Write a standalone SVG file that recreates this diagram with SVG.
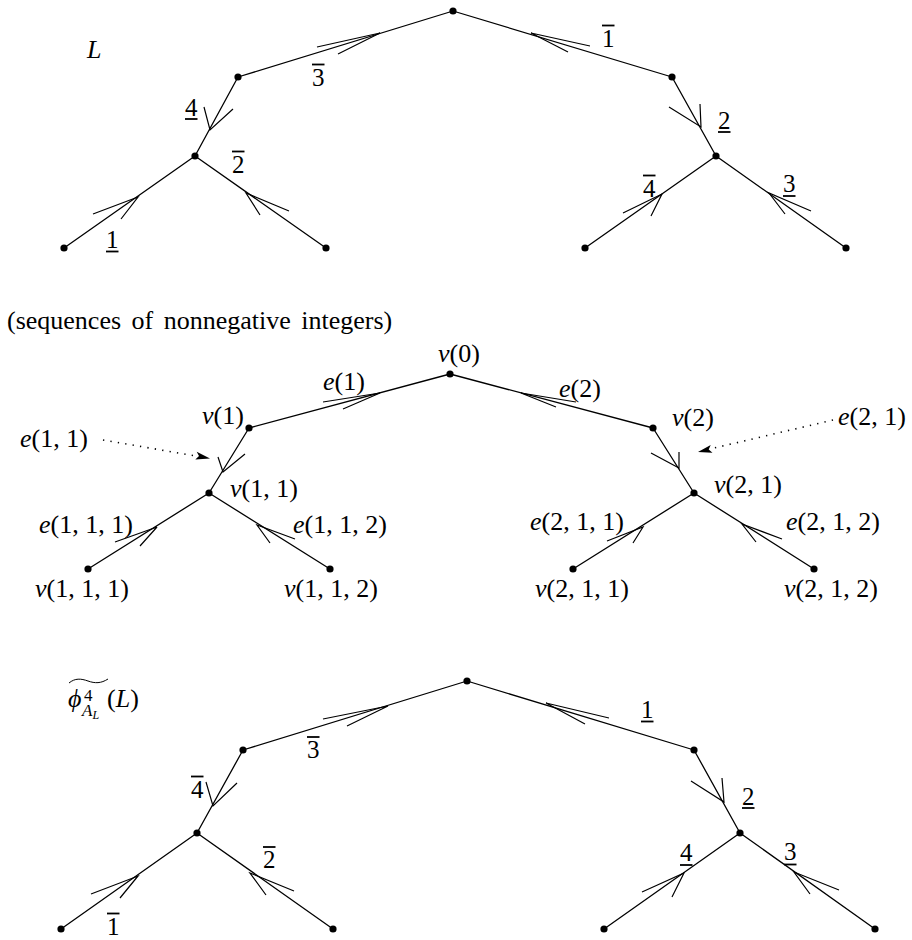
<svg xmlns="http://www.w3.org/2000/svg" width="912" height="940" viewBox="0 0 912 940">
<style>
.e{stroke:#000;stroke-width:1.3;fill:none;stroke-linecap:round;stroke-linejoin:miter}
.a{stroke:#000;stroke-width:1.2;fill:none;stroke-linecap:butt;stroke-linejoin:miter}
.d{stroke:#000;stroke-width:1.6;fill:none;stroke-dasharray:1.3 6.2}
.n{fill:#000}
.t{font-family:"Liberation Serif","DejaVu Serif",serif;font-size:26px;fill:#000}
.g{font-family:"Liberation Serif","DejaVu Serif",serif;font-size:25px;fill:#000}
.i{font-style:italic}
.b{stroke:#000;stroke-width:1.8}
</style>
<defs>
<circle id="dot" r="3.6" class="n"/>
</defs>

<!-- ============ TOP TREE ============ -->
<g id="top-connectors">
<line class="e" x1="453" y1="11" x2="238" y2="77"/>
<line class="e" x1="453" y1="11" x2="672" y2="77"/>
<line class="e" x1="238" y1="77" x2="195" y2="156"/>
<line class="e" x1="672" y1="77" x2="716" y2="156"/>
<line class="e" x1="195" y1="156" x2="64" y2="248"/>
<line class="e" x1="195" y1="156" x2="326" y2="248"/>
<line class="e" x1="716" y1="156" x2="585" y2="248"/>
<line class="e" x1="716" y1="156" x2="846" y2="248"/>
<polyline class="a" points="317,47 380,33 338,54"/>
<polyline class="a" points="590,46 531,33 568,52"/>
<polyline class="a" points="204,107 210,130 233,109"/>
<polyline class="a" points="669,107 701,127 700,104"/>
<polyline class="a" points="93,214 138,197 121,219"/>
<polyline class="a" points="289,211 246,193 260,215"/>
<polyline class="a" points="623,213 662,194 651,216"/>
<polyline class="a" points="811,211 769,193 785,214"/>
</g>
<g id="top-nodes">
<g id="t0"><use href="#dot" x="453" y="11"/></g>
<g id="t1"><use href="#dot" x="238" y="77"/></g>
<g id="t11"><use href="#dot" x="195" y="156"/></g>
<g id="t111"><use href="#dot" x="64" y="248"/></g>
<g id="t112"><use href="#dot" x="326" y="248"/></g>
<g id="t2"><use href="#dot" x="672" y="77"/></g>
<g id="t21"><use href="#dot" x="716" y="156"/></g>
<g id="t211"><use href="#dot" x="585" y="248"/></g>
<g id="t212"><use href="#dot" x="846" y="248"/></g>
</g>
<g id="top-labels">
<text class="t i" x="87" y="58" font-family="Liberation Serif, serif">L</text>
<text class="g" x="312" y="86">3</text><line class="b" x1="312" y1="64.5" x2="324.5" y2="64.5"/>
<text class="g" x="185" y="116">4</text><line class="b" x1="185" y1="119" x2="197.5" y2="119"/>
<text class="g" x="232" y="173">2</text><line class="b" x1="232" y1="151.5" x2="244.5" y2="151.5"/>
<text class="g" x="106" y="248">1</text><line class="b" x1="106" y1="251.5" x2="118.5" y2="251.5"/>
<text class="g" x="602" y="47">1</text><line class="b" x1="602" y1="25.5" x2="614.5" y2="25.5"/>
<text class="g" x="718" y="129">2</text><line class="b" x1="718" y1="132" x2="730.5" y2="132"/>
<text class="g" x="643" y="197">4</text><line class="b" x1="643" y1="175.5" x2="655.5" y2="175.5"/>
<text class="g" x="783" y="192">3</text><line class="b" x1="783" y1="196" x2="795.5" y2="196"/>
</g>

<!-- ============ MIDDLE TREE ============ -->
<text class="t" x="7" y="329" word-spacing="4">(sequences of nonnegative integers)</text>
<g id="mid-connectors">
<line class="e" x1="450" y1="374" x2="249" y2="428"/>
<line class="e" x1="450" y1="374" x2="653" y2="428"/>
<line class="e" x1="249" y1="428" x2="209" y2="493"/>
<line class="e" x1="653" y1="428" x2="694" y2="493"/>
<line class="e" x1="209" y1="493" x2="88" y2="569"/>
<line class="e" x1="209" y1="493" x2="330" y2="569"/>
<line class="e" x1="694" y1="493" x2="573" y2="569"/>
<line class="e" x1="694" y1="493" x2="814" y2="569"/>
<polyline class="a" points="323,402 380,393 343,409"/>
<polyline class="a" points="576,402 521,393 556,407"/>
<polyline class="a" points="218,457 223,472 245,454"/>
<polyline class="a" points="651,453 679,468 679,452"/>
<polyline class="a" points="115,542 157,527 140,546"/>
<polyline class="a" points="295,539 257,525 270,543"/>
<polyline class="a" points="607,541 643,527 633,543"/>
<polyline class="a" points="782,539 742,524 756,542"/>
<line class="d" x1="103" y1="440" x2="196" y2="456"/>
<path class="n" d="M210,458.4 L195.3,459.6 L199,456 L196.7,451.7 Z"/>
<line class="d" x1="833" y1="420" x2="710" y2="449"/>
<path class="n" d="M698,452 L710.7,444.9 L708.7,449.5 L712.5,452.7 Z"/>
</g>
<g id="mid-nodes">
<g id="v0"><use href="#dot" x="450" y="374"/><text class="t" x="438" y="362"><tspan class="i">v</tspan>(0)</text></g>
<g id="v1"><use href="#dot" x="249" y="428"/><text class="t" x="202" y="424"><tspan class="i">v</tspan>(1)</text></g>
<g id="v2"><use href="#dot" x="653" y="428"/><text class="t" x="672" y="426"><tspan class="i">v</tspan>(2)</text></g>
<g id="v11"><use href="#dot" x="209" y="493"/><text class="t" x="230" y="497"><tspan class="i">v</tspan>(1, 1)</text></g>
<g id="v21"><use href="#dot" x="694" y="493"/><text class="t" x="714" y="493"><tspan class="i">v</tspan>(2, 1)</text></g>
<g id="v111"><use href="#dot" x="88" y="569"/><text class="t" x="35" y="597"><tspan class="i">v</tspan>(1, 1, 1)</text></g>
<g id="v112"><use href="#dot" x="330" y="569"/><text class="t" x="284" y="597"><tspan class="i">v</tspan>(1, 1, 2)</text></g>
<g id="v211"><use href="#dot" x="573" y="569"/><text class="t" x="535" y="597"><tspan class="i">v</tspan>(2, 1, 1)</text></g>
<g id="v212"><use href="#dot" x="814" y="569"/><text class="t" x="784" y="597"><tspan class="i">v</tspan>(2, 1, 2)</text></g>
</g>
<g id="mid-edge-labels">
<text class="t" x="323" y="390"><tspan class="i">e</tspan>(1)</text>
<text class="t" x="559" y="397"><tspan class="i">e</tspan>(2)</text>
<text class="t" x="20" y="447"><tspan class="i">e</tspan>(1, 1)</text>
<text class="t" x="838" y="425"><tspan class="i">e</tspan>(2, 1)</text>
<text class="t" x="39" y="533"><tspan class="i">e</tspan>(1, 1, 1)</text>
<text class="t" x="293" y="533"><tspan class="i">e</tspan>(1, 1, 2)</text>
<text class="t" x="530" y="530"><tspan class="i">e</tspan>(2, 1, 1)</text>
<text class="t" x="786" y="530"><tspan class="i">e</tspan>(2, 1, 2)</text>
</g>

<!-- ============ BOTTOM TREE ============ -->
<g id="bot-connectors">
<line class="e" x1="467" y1="681" x2="243" y2="750"/>
<line class="e" x1="467" y1="681" x2="694" y2="750"/>
<line class="e" x1="243" y1="750" x2="197" y2="833"/>
<line class="e" x1="694" y1="750" x2="740" y2="833"/>
<line class="e" x1="197" y1="833" x2="61" y2="929"/>
<line class="e" x1="197" y1="833" x2="333" y2="929"/>
<line class="e" x1="740" y1="833" x2="604" y2="929"/>
<line class="e" x1="740" y1="833" x2="875" y2="929"/>
<polyline class="a" points="323,719 388,706 347,726"/>
<polyline class="a" points="609,718 546,703 585,724"/>
<polyline class="a" points="206,782 213,806 237,783"/>
<polyline class="a" points="691,781 724,802 722,778"/>
<polyline class="a" points="91,894 138,876 120,898"/>
<polyline class="a" points="294,891 250,873 266,895"/>
<polyline class="a" points="642,892 684,873 672,897"/>
<polyline class="a" points="839,890 794,872 810,894"/>
</g>
<g id="bot-nodes">
<g id="b0"><use href="#dot" x="467" y="681"/></g>
<g id="b1"><use href="#dot" x="243" y="750"/></g>
<g id="b11"><use href="#dot" x="197" y="833"/></g>
<g id="b111"><use href="#dot" x="61" y="929"/></g>
<g id="b112"><use href="#dot" x="333" y="929"/></g>
<g id="b2"><use href="#dot" x="694" y="750"/></g>
<g id="b21"><use href="#dot" x="740" y="833"/></g>
<g id="b211"><use href="#dot" x="604" y="929"/></g>
<g id="b212"><use href="#dot" x="875" y="929"/></g>
</g>
<g id="bot-labels">
<path d="M69,683 C75,678 81,678.5 88,681 C95,683.5 101,683.5 108,679" stroke="#000" stroke-width="1" fill="none"/>
<text class="t" x="68" y="707"><tspan class="i">ϕ</tspan><tspan x="84" dy="-6" font-size="17">4</tspan><tspan x="82" dy="15" font-size="17" class="i">A</tspan><tspan dy="3" font-size="12" class="i">L</tspan><tspan x="107" dy="-12">(<tspan class="i">L</tspan>)</tspan></text>
<text class="g" x="307" y="758">3</text><line class="b" x1="307" y1="737" x2="319.5" y2="737"/>
<text class="g" x="191" y="798">4</text><line class="b" x1="191" y1="776.5" x2="203.5" y2="776.5"/>
<text class="g" x="263" y="868">2</text><line class="b" x1="263" y1="847" x2="275.5" y2="847"/>
<text class="g" x="107" y="935">1</text><line class="b" x1="107" y1="913.5" x2="119.5" y2="913.5"/>
<text class="g" x="641" y="718">1</text><line class="b" x1="641" y1="721.5" x2="653.5" y2="721.5"/>
<text class="g" x="742" y="805">2</text><line class="b" x1="742" y1="808" x2="754.5" y2="808"/>
<text class="g" x="680" y="861">4</text><line class="b" x1="680" y1="865" x2="692.5" y2="865"/>
<text class="g" x="784" y="860">3</text><line class="b" x1="784" y1="864.5" x2="796.5" y2="864.5"/>
</g>
</svg>
